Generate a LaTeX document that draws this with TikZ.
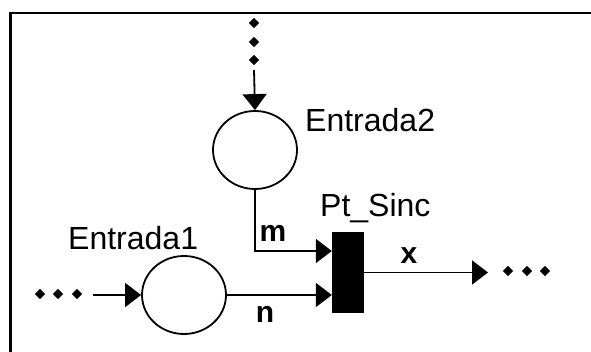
\documentclass[tikz,border=0pt]{standalone}
\usepackage{fontspec}
\setmainfont{Liberation Sans}
\usetikzlibrary{arrows.meta,shapes.geometric}
\begin{document}
\begin{tikzpicture}[x=1pt,y=-1pt,
  place/.style={draw, line width=1.8pt, ellipse, minimum width=84pt, minimum height=78pt, inner sep=0pt},
  trans/.style={fill=black, draw=none, rectangle, minimum width=32pt, minimum height=81pt, inner sep=0pt},
  dot/.style={diamond, fill=black, inner sep=0pt, minimum width=10.5pt, minimum height=10.5pt},
  arc/.style={line width=1.8pt, -{Triangle[length=16pt,width=24pt]}},
  lbl/.style={font=\fontsize{32}{32}\selectfont, inner sep=0pt, anchor=base west},
  wlbl/.style={font=\fontsize{30}{30}\selectfont\bfseries, inner sep=0pt},
]
\useasboundingbox (0,0) rectangle (591,352);
% frame
\draw[line width=2.5pt] (10.5,352) -- (10.5,13) -- (591,13);

% places and transition
\node[place] (e2) at (255,150) {};
\node[place] (e1) at (184,295) {};
\node[trans] (t) at (348,272.5) {};

% dots
\node[dot] (d21) at (254,23) {};
\node[dot] (d22) at (254,42) {};
\node[dot] (d23) at (254,60) {};
\node[dot] (d11) at (40,294) {};
\node[dot] (d12) at (58,294) {};
\node[dot] (d13) at (77,294) {};
\node[dot] (d31) at (508,271) {};
\node[dot] (d32) at (527,271) {};
\node[dot] (d33) at (545,271) {};

% free ends
\coordinate (in2) at (254,70);
\coordinate (in1) at (93,295);
\coordinate (out) at (488,272.5);

% arcs
\draw[arc] (in2) -- (e2.north);
\draw[arc] (in1) -- (e1.west);
\draw[arc] (e2.south) |- ([yshift=21.5pt]t.west);
\draw[arc] (e1.east) -- (t.west |- e1.east);
\draw[arc] (t.east) -- (out);

% labels
\node[lbl] (l2) at (305,132) {Entrada2};
\node[lbl] (l1) at (68,250) {Entrada1};
\node[lbl] (lt) at (320,217) {Pt\_Sinc};
\node[wlbl] (lm) at (273,233) {m};
\node[wlbl] (ln) at (265,314) {n};
\node[wlbl] (lx) at (409,256) {x};
\end{tikzpicture}
\end{document}
